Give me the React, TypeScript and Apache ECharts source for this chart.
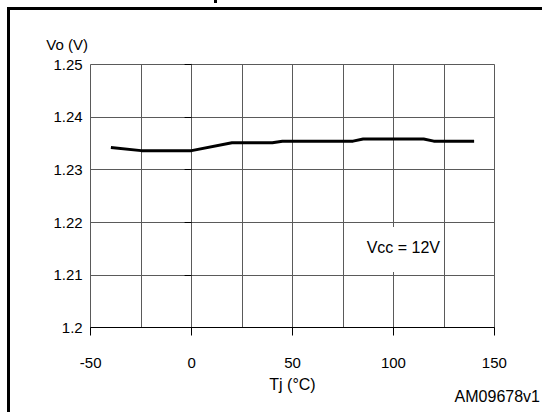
import React, { useEffect, useRef } from "react";
import * as echarts from "echarts";

const tempC = [-40, -25, 0, 20, 40, 45, 80, 85, 115, 120, 140];
const voltsV = [1.2342, 1.2336, 1.2336, 1.2351, 1.2351, 1.2354, 1.2354, 1.2358, 1.2358, 1.2354, 1.2354];
const xTicks = [-50, 0, 50, 100, 150];
const yTicks = [1.2, 1.21, 1.22, 1.23, 1.24, 1.25];

const FONT = "Liberation Sans, Arial, sans-serif";

export default function App() {
  const ref = useRef<HTMLDivElement>(null);
  useEffect(() => {
    document.body.style.margin = "0";
    const chart = echarts.init(ref.current!, null, { renderer: "svg" });
    const grid = "#5a5a5a";
    chart.setOption({
      animation: false,
      backgroundColor: "#ffffff",
      textStyle: { fontFamily: FONT },
      grid: { left: 90.7, right: 47.7, top: 64.3, bottom: 84.5, show: false },
      xAxis: {
        type: "value",
        min: xTicks[0],
        max: xTicks[xTicks.length - 1],
        interval: 50,
        name: "Tj (°C)",
        nameLocation: "middle",
        nameGap: 49,
        nameTextStyle: { fontFamily: FONT, fontSize: 16, color: "#000" },
        axisLine: { show: true, lineStyle: { color: "#000", width: 1 } },
        axisTick: { show: true, inside: false, length: 8, lineStyle: { color: "#000" } },
        axisLabel: { fontFamily: FONT, fontSize: 15, color: "#000", margin: 27 },
        splitLine: { show: true, lineStyle: { color: grid, width: 1 } },
        minorTick: { show: false, splitNumber: 2 },
        minorSplitLine: { show: true, lineStyle: { color: grid, width: 1 } },
      },
      yAxis: {
        type: "value",
        min: yTicks[0],
        max: yTicks[yTicks.length - 1],
        interval: 0.01,
        axisLine: { show: true, lineStyle: { color: grid, width: 1 } },
        axisTick: { show: true, inside: false, length: 7, lineStyle: { color: "#000" } },
        axisLabel: {
          fontFamily: FONT,
          fontSize: 15,
          color: "#000",
          margin: 8,
          formatter: (v: number) => String(Math.round(v * 100) / 100),
        },
        splitLine: { show: true, lineStyle: { color: grid, width: 1 } },
      },
      series: [
        {
          type: "line",
          data: tempC.map((t, i) => [t, voltsV[i]]),
          showSymbol: false,
          symbol: "none",
          lineStyle: { color: "#000", width: 3 },
          z: 5,
        },
      ],
      graphic: [
        {
          type: "rect",
          shape: { x: 8.5, y: 8.5, width: 700, height: 600 },
          style: { fill: "none", stroke: "#000", lineWidth: 3 },
          silent: true,
        },
        {
          type: "rect",
          shape: { x: 214, y: 0, width: 3, height: 3 },
          style: { fill: "#000" },
          silent: true,
        },
        {
          type: "text",
          x: 88,
          y: 44,
          style: {
            text: "Vo (V)",
            fontFamily: FONT,
            fontSize: 15,
            fill: "#000",
            align: "right",
            verticalAlign: "middle",
          },
          silent: true,
        },
        {
          type: "rect",
          shape: { x: 360, y: 227, width: 81, height: 45 },
          style: { fill: "#fff" },
          z: 100,
          silent: true,
        },
        {
          type: "text",
          x: 440,
          y: 247,
          z: 101,
          style: {
            text: "Vcc = 12V",
            fontFamily: FONT,
            fontSize: 16,
            fill: "#000",
            align: "right",
            verticalAlign: "middle",
          },
          silent: true,
        },
        {
          type: "text",
          x: 540,
          y: 396,
          style: {
            text: "AM09678v1",
            fontFamily: FONT,
            fontSize: 16,
            fill: "#000",
            align: "right",
            verticalAlign: "middle",
          },
          silent: true,
        },
      ],
    });
    return () => chart.dispose();
  }, []);
  return <div ref={ref} style={{ width: 542, height: 412 }} />;
}
